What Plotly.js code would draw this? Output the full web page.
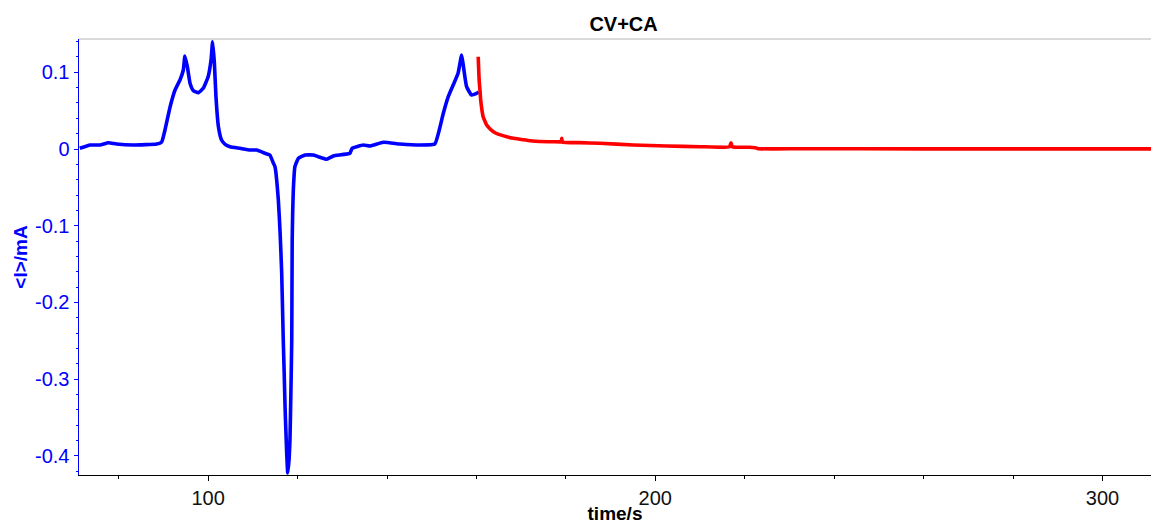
<!DOCTYPE html>
<html>
<head>
<meta charset="utf-8">
<script src="https://cdn.plot.ly/plotly-3.0.1.min.js"></script>
<style>
  html, body { margin: 0; padding: 0; background: #fff; }
  #chart { width: 1151px; height: 524px; }
</style>
</head>
<body>
<div id="chart"></div>
<script>
// Cyclic voltammetry segment (time in s, mean current in mA)
const cvTime = [71.3, 73.6, 75.8, 77.7, 79.5, 83.3, 88.5, 89.6, 90.35, 91.5, 92.6, 93.7, 94.45, 94.8,
  95.35, 95.95, 96.7, 97.8, 98.9, 100.0, 100.65, 101.0, 101.4, 101.75, 102.3, 103.0, 103.8, 104.9, 107.1,
  109.4, 110.9, 112.7, 113.8, 114.6, 114.95, 115.7, 116.1, 116.45, 116.8, 117.0, 117.2, 117.4, 117.6, 117.8, 118.1, 118.3,
  118.5, 118.7, 118.8, 118.9, 119.05, 119.4, 120.2, 121.7, 123.5, 124.6, 126.5, 128.0, 131.7, 132.2, 134.7, 136.2,
  139.2, 142.9, 147.4, 150.7, 151.5, 152.6, 153.7, 154.8, 155.9, 156.7, 157.1, 157.8, 158.9, 160.1, 160.5];
const cvCurrent = [0.0009, 0.0052, 0.0052, 0.0082, 0.0065, 0.0052, 0.0065, 0.0090, 0.0248, 0.0551, 0.0769, 0.0900, 0.1030, 0.1213,
  0.1073, 0.0857, 0.0760, 0.0734, 0.0791, 0.0943, 0.1160, 0.1399, 0.1117, 0.0682, 0.0291, 0.0117, 0.0060, 0.0030, 0.0009,
  -0.0013, -0.0013, -0.0056, -0.0078, -0.0186, -0.0231, -0.0665, -0.1100, -0.1617, -0.2490, -0.2900, -0.3360, -0.3700, -0.4010, -0.4224, -0.4050, -0.3790,
  -0.3200, -0.2490, -0.1186, -0.0850, -0.0535, -0.0231, -0.0121, -0.0078, -0.0078, -0.0100, -0.0134, -0.0091, -0.0056, 0.0009, 0.0052, 0.0039,
  0.0087, 0.0065, 0.0052, 0.0065, 0.0205, 0.0465, 0.0682, 0.0834, 0.0987, 0.1226, 0.1073, 0.0812, 0.0704, 0.0726, 0.0747];

// Chronoamperometry segment
const caTime = [160.4, 160.5, 160.6, 160.8, 160.95, 161.2, 161.5, 162.0, 162.3, 163.0, 163.8, 165.0, 166.8, 168.0, 169.7, 172.0, 174.2,
  178.7, 179.0, 179.07, 179.25, 183.0, 187.6, 195.1, 202.55, 210.0, 216.6, 216.93, 217.2, 221.2, 222.4, 223.0, 232.4, 260.0, 290.0, 311.0];
const caCurrent = [0.1203, 0.1050, 0.0900, 0.0760, 0.0639, 0.0520, 0.0421, 0.0350, 0.0313, 0.0265, 0.0226, 0.0190, 0.0160, 0.0142, 0.0126, 0.0108, 0.0098,
  0.0093, 0.0092, 0.0140, 0.0091, 0.0083, 0.0074, 0.0052, 0.0039, 0.0030, 0.0030, 0.0082, 0.0030, 0.0022, 0.0016, 0.0004, 0.0003, 0.0002, 0.0002, 0.0002];

const xTickVals = [100, 200, 300];
const xTickText = ['100', '200', '300'];
const yTickVals = [0.1, 0, -0.1, -0.2, -0.3, -0.4];
const yTickText = ['0.1', '0', '-0.1', '-0.2', '-0.3', '-0.4'];

const traces = [
  { x: cvTime, y: cvCurrent, type: 'scatter', mode: 'lines', name: 'CV',
    line: { color: '#0000ff', width: 3.6, shape: 'spline', smoothing: 0.4 } },
  { x: caTime, y: caCurrent, type: 'scatter', mode: 'lines', name: 'CA',
    line: { color: '#ff0000', width: 3.6, shape: 'spline', smoothing: 0.4 } }
];

const layout = {
  width: 1151, height: 524,
  margin: { l: 79, r: 0, t: 39, b: 49, pad: 0 },
  paper_bgcolor: '#ffffff', plot_bgcolor: '#ffffff',
  showlegend: false,
  font: { family: 'Liberation Sans, Arial, sans-serif', size: 20, color: '#000' },
  title: { text: '<b>CV+CA</b>', x: 0.508, xref: 'paper', xanchor: 'center', y: 0.955, yanchor: 'middle',
           font: { size: 20, color: '#000' } },
  xaxis: {
    range: [71.12, 310.86], showgrid: false, zeroline: false,
    showline: true, linecolor: '#000', linewidth: 1,
    tickmode: 'array', tickvals: xTickVals, ticktext: xTickText,
    ticks: 'outside', ticklen: 5, tickcolor: '#000', tickwidth: 1,
    tickfont: { size: 20, color: '#111' },
    minor: { tick0: 0, dtick: 20, ticks: 'outside', ticklen: 3, tickcolor: '#000', tickwidth: 1 },
    title: { text: '<b>time/s</b>', standoff: 2, font: { size: 19, color: '#000' } }
  },
  yaxis: {
    range: [-0.425, 0.1434], showgrid: false, zeroline: false,
    showline: true, linecolor: '#0000ff', linewidth: 1.5,
    tickmode: 'array', tickvals: yTickVals, ticktext: yTickText,
    ticks: 'outside', ticklen: 4, tickcolor: '#0000ff', tickwidth: 1,
    tickfont: { size: 20, color: '#0000ff' },
    minor: { tick0: 0, dtick: 0.02, ticks: 'outside', ticklen: 2, tickcolor: '#0000ff', tickwidth: 1 },
    title: { text: '<b>&lt;I&gt;/mA</b>', standoff: 2, font: { size: 19, color: '#0000ff' } }
  },
  shapes: [
    { type: 'line', xref: 'paper', yref: 'paper', x0: 0, x1: 1, y0: 1, y1: 1,
      line: { color: '#d9d9d9', width: 2 } }
  ]
};

Plotly.newPlot('chart', traces, layout, { staticPlot: true, displayModeBar: false });
</script>
</body>
</html>
